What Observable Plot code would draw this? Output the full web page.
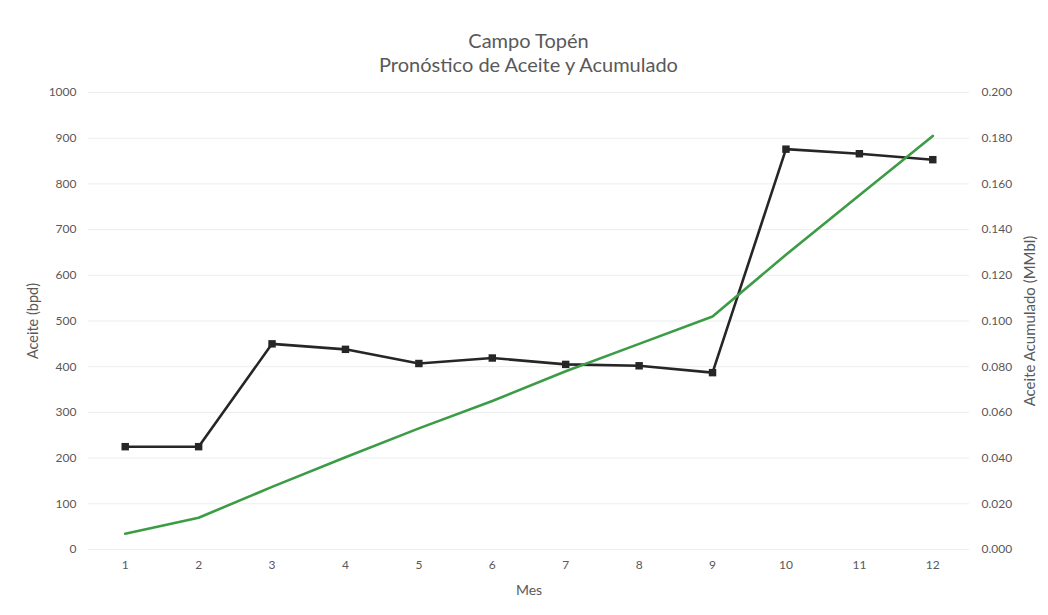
<!DOCTYPE html>
<html>
<head>
<meta charset="utf-8">
<script src="https://cdn.jsdelivr.net/npm/d3@7"></script>
<script src="https://cdn.jsdelivr.net/npm/@observablehq/plot@0.6"></script>
<style>
  html, body { margin: 0; padding: 0; background: #fff; }
  #chart { width: 1048px; height: 615px; position: relative; font-family: Lato, "Open Sans", sans-serif; }
  #title { height: 80px; box-sizing: border-box; padding-top: 28px; padding-left: 88px; padding-right: 79px;
           text-align: center; color: #595959; font-size: 20px; line-height: 24px; }
</style>
</head>
<body>
<div id="chart">
  <div id="title"><div>Campo Topén</div><div>Pronóstico de Aceite y Acumulado</div></div>
</div>
<script>
// Monthly forecast, Campo Topén
const meses = [1, 2, 3, 4, 5, 6, 7, 8, 9, 10, 11, 12];
const aceiteBpd = [225, 225, 450, 438, 407, 419, 405, 402, 387, 876, 866, 853];
const acumuladoMMbl = [0.0069, 0.0139, 0.0274, 0.0404, 0.053, 0.065, 0.078, 0.090, 0.102, 0.129, 0.155, 0.181];

// left axis 0–1000 bpd, right axis 0–0.200 MMbl share the same frame
const leftTicks = d3.range(0, 1001, 100);
const factor = 1000 / 0.2;

const rows = meses.map((m, i) => ({mes: m, aceite: aceiteBpd[i], acum: acumuladoMMbl[i] * factor}));

const textColor = "#595959";

const plot = Plot.plot({
  width: 1048,
  height: 535,
  marginTop: 12,
  marginBottom: 66,
  marginLeft: 88,
  marginRight: 79,
  style: {fontFamily: "Lato, 'Open Sans', sans-serif", fontSize: "12px", color: textColor, background: "#fff"},
  x: {domain: [0.5, 12.5]},
  y: {domain: [0, 1000]},
  marks: [
    Plot.gridY(leftTicks, {stroke: "#ededed", strokeOpacity: 1, strokeWidth: 1}),
    Plot.axisX(meses, {tickSize: 0, tickPadding: 11, fontSize: 12, label: null}),
    Plot.axisY(leftTicks, {anchor: "left", tickSize: 0, tickPadding: 12, tickFormat: d3.format("d"), fontSize: 12, label: null}),
    Plot.axisY(leftTicks, {anchor: "right", tickSize: 0, tickPadding: 12, tickFormat: d => (d / factor).toFixed(3), fontSize: 12, label: null}),
    // axis titles, centred on the frame
    Plot.text(["Mes"], {frameAnchor: "bottom", dy: 45, textAnchor: "middle", fontSize: 14, fill: textColor}),
    Plot.text(["Aceite (bpd)"], {frameAnchor: "left", dx: -55, rotate: -90, textAnchor: "middle", fontSize: 14.5, fill: textColor}),
    Plot.text(["Aceite Acumulado (MMbl)"], {frameAnchor: "right", dx: 61, rotate: -90, textAnchor: "middle", fontSize: 15, fill: textColor}),
    Plot.line(rows, {x: "mes", y: "aceite", stroke: "#262626", strokeWidth: 2.6}),
    Plot.dot(rows, {x: "mes", y: "aceite", symbol: "square", r: 4.2, fill: "#262626", stroke: "none"}),
    Plot.line(rows, {x: "mes", y: "acum", stroke: "#3c9c45", strokeWidth: 2.6})
  ]
});

document.getElementById("chart").appendChild(plot);
</script>
</body>
</html>
